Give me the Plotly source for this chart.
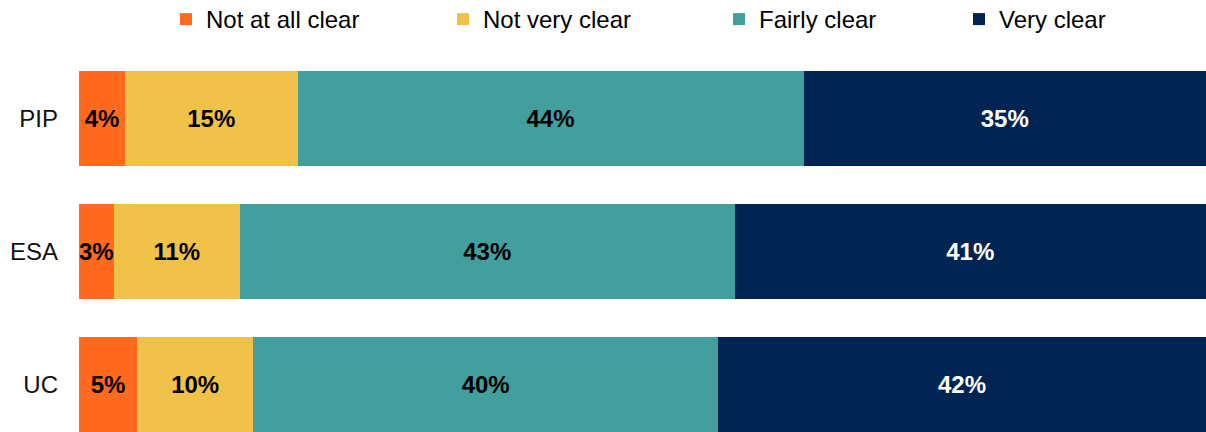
import plotly.graph_objects as go

# Survey responses: how clear was the information, by benefit
benefits = ["PIP", "ESA", "UC"]
responses = ["Not at all clear", "Not very clear", "Fairly clear", "Very clear"]
not_at_all_clear = [4, 3, 5]
not_very_clear = [15, 11, 10]
fairly_clear = [44, 43, 40]
very_clear = [35, 41, 42]

series = [not_at_all_clear, not_very_clear, fairly_clear, very_clear]
colors = ["#FF6A1F", "#F1C24A", "#429F9E", "#012453"]
label_colors = ["#000000", "#000000", "#000000", "#FFFFFF"]
legend_ids = ["legend", "legend2", "legend3", "legend4"]
# left edge of each legend entry (px from the left of the page)
legend_x_px = [166, 443, 719, 959]

FONT = "Liberation Sans, Arial, sans-serif"
W, H = 1206, 432

fig = go.Figure()
for name, vals, col, lcol, lid in zip(responses, series, colors, label_colors, legend_ids):
    fig.add_trace(go.Bar(
        y=benefits,
        x=vals,
        name=name,
        orientation="h",
        marker=dict(color=col, line=dict(width=0)),
        text=[f"{v}%" for v in vals],
        textposition="inside",
        insidetextanchor="middle",
        textangle=0,
        constraintext="none",
        textfont=dict(family=FONT, size=24, color=lcol, weight="bold"),
        legend=lid,
        hoverinfo="skip",
    ))

legend_common = dict(
    xref="container", yref="container",
    yanchor="middle", xanchor="left",
    orientation="h",
    font=dict(family=FONT, size=24, color="#000000"),
    bgcolor="rgba(0,0,0,0)",
    borderwidth=0,
)

layout_legends = {}
for lid, xp in zip(legend_ids, legend_x_px):
    layout_legends[lid] = dict(legend_common, x=xp / W, y=1 - 19.5 / H)

fig.update_layout(
    width=W, height=H,
    margin=dict(l=79, r=0, t=52, b=0),
    barmode="stack",
    barnorm="percent",
    bargap=0.286,
    plot_bgcolor="white",
    paper_bgcolor="white",
    showlegend=True,
    uniformtext=dict(minsize=24, mode="show"),
    xaxis=dict(range=[0, 100], visible=False, fixedrange=True),
    yaxis=dict(
        type="category",
        categoryorder="array",
        categoryarray=benefits,
        range=[2.357, -0.5],
        showgrid=False, showline=False, zeroline=False,
        ticks="",
        ticklabelstandoff=20,
        tickfont=dict(family=FONT, size=24, color="#111111"),
    ),
    **layout_legends,
)

fig.write_html("out.html")
